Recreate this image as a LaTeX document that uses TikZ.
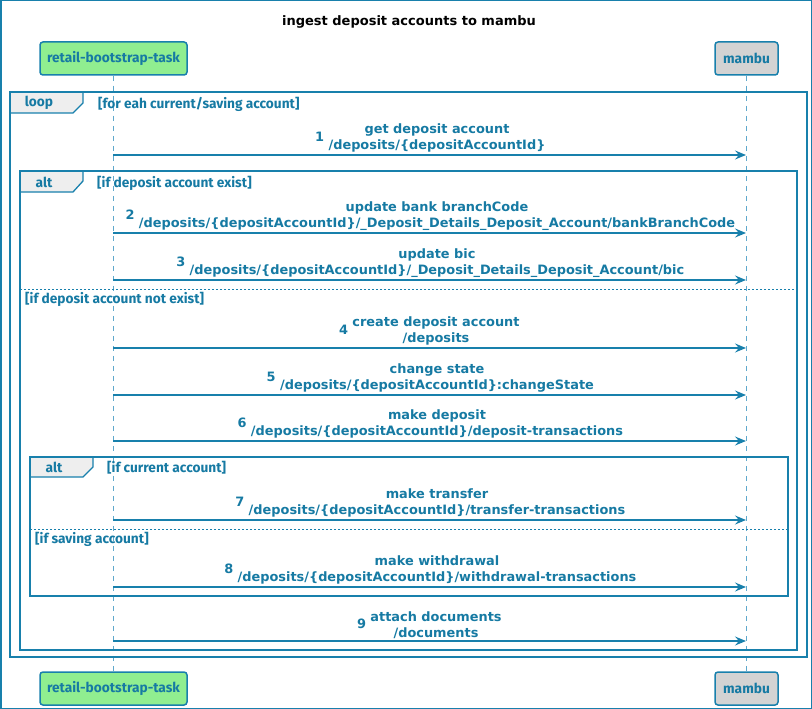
\documentclass[tikz,border=0pt]{standalone}
\usepackage{fontspec}
\setmainfont{DejaVu Sans}
\newfontfamily\labfont{Fira Sans}
\usetikzlibrary{arrows.meta}
\definecolor{lc}{RGB}{24,128,172}
\definecolor{tc}{RGB}{22,122,163}
\definecolor{llc}{RGB}{95,168,204}
\definecolor{tabfill}{RGB}{238,238,238}
\definecolor{pgreen}{RGB}{144,238,144}
\definecolor{pgray}{RGB}{211,211,211}
\tikzset{
  part/.style={draw=lc, line width=1.5pt, rounded corners=3pt, text=tc,
    font=\labfont\bfseries\fontsize{13.7}{16}\selectfont, minimum height=33pt, inner sep=0pt},
  life/.style={llc, line width=0.8pt, dash pattern=on 5pt off 5pt},
  frame/.style={lc, line width=1.6pt},
  tabbox/.style={lc, line width=1.3pt, fill=tabfill},
  sep/.style={lc, line width=0.8pt, dash pattern=on 2pt off 2pt},
  flabel/.style={text=tc, font=\labfont\bfseries\fontsize{13.7}{15}\selectfont, inner sep=0pt},
  guard/.style={text=tc, font=\labfont\bfseries\fontsize{13.7}{15}\selectfont, inner sep=0pt, anchor=west},
  msg/.style={text=tc, font=\bfseries\fontsize{12.9}{16}\selectfont, align=center, anchor=south, inner sep=0pt},
  num/.style={text=tc, font=\bfseries\fontsize{12.9}{16}\selectfont, anchor=east, inner sep=0pt},
  arr/.style={lc, line width=1.5pt, -{Stealth[length=11pt,width=9pt,inset=4pt]}},
}
\begin{document}
\begin{tikzpicture}[x=1pt,y=-1pt]
\useasboundingbox (0,0) rectangle (812,709);
\draw[lc, line width=1.5pt] (0.75,0.75) rectangle (811.25,708.25);

\node[font=\bfseries\fontsize{13}{16}\selectfont, text=black] (title) at (409,22) {ingest deposit accounts to mambu};

% participants
\node[part, fill=pgreen, minimum width=147pt] (rt) at (113.5,58.5) {retail-bootstrap-task};
\node[part, fill=pgray, minimum width=63pt] (mt) at (746.5,58.5) {mambu};
\node[part, fill=pgreen, minimum width=147pt] (rb) at (113.5,688.5) {retail-bootstrap-task};
\node[part, fill=pgray, minimum width=63pt] (mb) at (746.5,688.5) {mambu};
\draw[life] (rt.south) -- (rb.north);
\draw[life] (mt.south) -- (mb.north);

% loop frame
\draw[tabbox] (10,92) -- (83,92) -- (83,103) -- (73,113) -- (10,113) -- cycle;
\draw[frame] (10,92) rectangle (807,657);
\node[flabel] (loopl) at (39,103) {loop};
\node[guard] (loopg) at (98,104) {[for eah current/saving account]};

% alt 1
\draw[tabbox] (20,171) -- (83,171) -- (83,181) -- (73,192) -- (20,192) -- cycle;
\draw[frame] (20,171) rectangle (797,650);
\node[flabel] (alt1l) at (44,182) {alt};
\node[guard] (alt1g) at (97,183) {[if deposit account exist]};
\draw[sep] (20,289) -- (797,289);
\node[guard] (alt1g2) at (25,299) {[if deposit account not exist]};

% alt 2
\draw[tabbox] (30,457) -- (93,457) -- (93,467) -- (83,477) -- (30,477) -- cycle;
\draw[frame] (30,457) rectangle (788,596);
\node[flabel] (alt2l) at (54,467) {alt};
\node[guard] (alt2g) at (107,468) {[if current account]};
\draw[sep] (30,529) -- (788,529);
\node[guard] (alt2g2) at (35,539) {[if saving account]};

% message end points
\foreach \i/\y in {1/155,2/233,3/280,4/348,5/395,6/441,7/520,8/587,9/641}{
  \coordinate (s\i) at (113,\y);
  \coordinate (e\i) at (746,\y);
  \draw[arr] (s\i) -- (e\i);
}

\node[msg] (m1) at (437,152.5) {get deposit account\\/deposits/\{depositAccountId\}};
\node[msg] (m2) at (437,230.5) {update bank branchCode\\/deposits/\{depositAccountId\}/\_Deposit\_Details\_Deposit\_Account/bankBranchCode};
\node[msg] (m3) at (437,277.5) {update bic\\/deposits/\{depositAccountId\}/\_Deposit\_Details\_Deposit\_Account/bic};
\node[msg] (m4) at (436,345.5) {create deposit account\\/deposits};
\node[msg] (m5) at (437,392.5) {change state\\/deposits/\{depositAccountId\}:changeState};
\node[msg] (m6) at (437,438.5) {make deposit\\/deposits/\{depositAccountId\}/deposit-transactions};
\node[msg] (m7) at (437,517.5) {make transfer\\/deposits/\{depositAccountId\}/transfer-transactions};
\node[msg] (m8) at (437,584.5) {make withdrawal\\/deposits/\{depositAccountId\}/withdrawal-transactions};
\node[msg] (m9) at (436,638.5) {attach documents\\/documents};

\foreach \i in {1,...,9}{
  \node[num] (n\i) at ([xshift=-4pt,yshift=1pt]m\i.west) {\i};
}
\end{tikzpicture}
\end{document}
